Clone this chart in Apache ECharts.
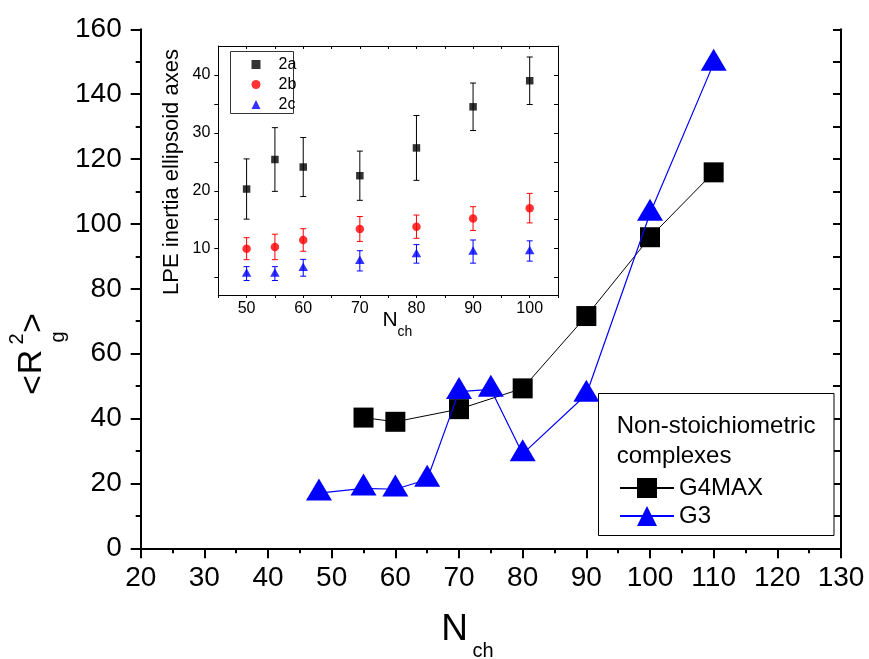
<!DOCTYPE html>
<html>
<head>
<meta charset="utf-8">
<script src="https://cdn.jsdelivr.net/npm/echarts@6/dist/echarts.min.js"></script>
<style>
  html, body { margin: 0; padding: 0; background: #fff; }
  #chart { width: 869px; height: 659px; }
</style>
</head>
<body>
<div id="chart"></div>
<script>
const FONT = '"Liberation Sans", Arial, Helvetica, sans-serif';

// Main panel: <Rg^2> against chain length
const nchG4max = [55, 60, 70, 80, 90, 100, 110];
const rgG4max = [40.3, 39.0, 42.9, 49.3, 71.6, 95.9, 115.9];
const nchG3 = [48, 55, 60, 65, 70, 75, 80, 90, 100, 110];
const rgG3 = [17.0, 18.5, 18.2, 21.2, 48.3, 49.0, 29.1, 47.4, 103.2, 149.5];

// Main panel tick labels
const mainXLabels = [20, 30, 40, 50, 60, 70, 80, 90, 100, 110, 120, 130];
const mainYLabels = [0, 20, 40, 60, 80, 100, 120, 140, 160];

// Inset: LPE inertia ellipsoid axes (mean and error)
const nchInset = [50, 55, 60, 70, 80, 90, 100];
const axis2a = [20.3, 25.4, 24.1, 22.6, 27.4, 34.5, 39.0];
const err2a = [5.2, 5.5, 5.1, 4.25, 5.6, 4.1, 4.1];
const axis2b = [10.0, 10.3, 11.5, 13.4, 13.8, 15.2, 17.0];
const err2b = [1.9, 2.2, 1.95, 2.15, 2.0, 2.05, 2.55];
const axis2c = [5.7, 5.7, 6.7, 7.9, 9.1, 9.5, 9.6];
const err2c = [1.2, 1.2, 1.45, 1.75, 1.6, 2.0, 1.75];

// Inset tick labels and tick positions
const insetXLabels = [50, 60, 70, 80, 90, 100];
const insetXTicks = [45, 50, 55, 60, 65, 70, 75, 80, 85, 90, 95, 100, 105];
const insetYLabels = [10, 20, 30, 40];
const insetYTicks = [5, 10, 15, 20, 25, 30, 35, 40];

const pairs = (xs, ys) => xs.map((x, i) => [x, ys[i]]);

function errorBars(values, errs, color) {
  return {
    type: 'custom',
    xAxisIndex: 2, yAxisIndex: 2,
    silent: true, z: 1,
    data: nchInset.map((x, i) => [x, values[i] - errs[i], values[i] + errs[i]]),
    encode: { x: 0, y: [1, 2] },
    renderItem(params, api) {
      const x = api.value(0);
      const lo = api.coord([x, api.value(1)]);
      const hi = api.coord([x, api.value(2)]);
      const hw = 3;
      const style = { stroke: color, lineWidth: 1 };
      return {
        type: 'group',
        children: [
          { type: 'line', shape: { x1: lo[0], y1: lo[1], x2: hi[0], y2: hi[1] }, style },
          { type: 'line', shape: { x1: hi[0] - hw, y1: hi[1], x2: hi[0] + hw, y2: hi[1] }, style },
          { type: 'line', shape: { x1: lo[0] - hw, y1: lo[1], x2: lo[0] + hw, y2: lo[1] }, style }
        ]
      };
    }
  };
}

const black = '#000';
const mainLine = { lineStyle: { color: black, width: 2 } };
const mainTickLine = { color: black, width: 2 };
const insetLine = { lineStyle: { color: black, width: 1 } };

const chart = echarts.init(document.getElementById('chart'), null, { renderer: 'canvas' });

chart.setOption({
  animation: false,
  backgroundColor: '#fff',
  grid: [
    { left: 140.7, top: 29.3, width: 700.3, height: 519, show: false },
    { left: 218.3, top: 46, width: 339.7, height: 249, show: false }
  ],
  xAxis: [
    { // main bottom
      type: 'value', gridIndex: 0, position: 'bottom', min: 20, max: 130, interval: 10,
      axisLine: mainLine,
      axisTick: { show: true, inside: false, length: 10, lineStyle: mainTickLine },
      minorTick: { show: true, splitNumber: 2, length: 5, lineStyle: mainTickLine },
      axisLabel: { customValues: mainXLabels, fontSize: 28, fontFamily: FONT, color: black, margin: 16 },
      splitLine: { show: false }
    },
    { // main top mirror
      type: 'value', gridIndex: 0, position: 'top', min: 20, max: 130, interval: 5,
      axisLine: mainLine,
      axisTick: { show: true, inside: true, length: 5, lineStyle: mainTickLine },
      axisLabel: { show: false }, splitLine: { show: false }
    },
    { // inset bottom
      type: 'value', gridIndex: 1, position: 'bottom', min: 45, max: 105,
      axisLine: insetLine,
      axisTick: { show: true, inside: false, length: 3, customValues: insetXTicks, lineStyle: { color: black, width: 1 } },
      axisLabel: { customValues: insetXLabels, fontSize: 16, fontFamily: FONT, color: black, margin: 6 },
      splitLine: { show: false }
    },
    { // inset top mirror
      type: 'value', gridIndex: 1, position: 'top', min: 45, max: 105,
      axisLine: insetLine,
      axisTick: { show: true, inside: true, length: 3, customValues: insetXTicks, lineStyle: { color: black, width: 1 } },
      axisLabel: { show: false }, splitLine: { show: false }
    }
  ],
  yAxis: [
    { // main left
      type: 'value', gridIndex: 0, position: 'left', min: 0, max: 160, interval: 20,
      axisLine: mainLine,
      axisTick: { show: true, inside: false, length: 10, lineStyle: mainTickLine },
      minorTick: { show: true, splitNumber: 2, length: 5, lineStyle: mainTickLine },
      axisLabel: { customValues: mainYLabels, fontSize: 28, fontFamily: FONT, color: black, margin: 19 },
      splitLine: { show: false }
    },
    { // main right mirror
      type: 'value', gridIndex: 0, position: 'right', min: 0, max: 160, interval: 10,
      axisLine: mainLine,
      axisTick: { show: true, inside: true, length: 8, lineStyle: mainTickLine },
      axisLabel: { show: false }, splitLine: { show: false }
    },
    { // inset left
      type: 'value', gridIndex: 1, position: 'left', min: 2, max: 45,
      axisLine: insetLine,
      axisTick: { show: true, inside: false, length: 4, customValues: insetYTicks, lineStyle: { color: black, width: 1 } },
      axisLabel: { customValues: insetYLabels, fontSize: 16, fontFamily: FONT, color: black, margin: 8 },
      splitLine: { show: false }
    },
    { // inset right mirror
      type: 'value', gridIndex: 1, position: 'right', min: 2, max: 45,
      axisLine: insetLine,
      axisTick: { show: true, inside: true, length: 4, customValues: insetYTicks, lineStyle: { color: black, width: 1 } },
      axisLabel: { show: false }, splitLine: { show: false }
    }
  ],
  legend: [
    {
      data: ['G4MAX', 'G3'],
      orient: 'vertical', left: 614, top: 471,
      itemWidth: 54, itemHeight: 25, itemGap: 4,
      textStyle: { fontSize: 24, fontFamily: FONT, color: black },
      selectedMode: false
    },
    {
      data: ['2a', '2b', '2c'],
      orient: 'vertical', left: 246.5, top: 51.5,
      itemWidth: 9, itemHeight: 9, itemGap: 4,
      textStyle: { fontSize: 16, fontFamily: FONT, color: black, padding: [0, 0, 0, 13] },
      selectedMode: false
    }
  ],
  graphic: [
    { type: 'rect', z: 1, shape: { x: 598.5, y: 393.5, width: 235.5, height: 142 },
      style: { fill: '#fff', stroke: black, lineWidth: 1 } },
    { type: 'rect', z: 1, shape: { x: 230.5, y: 51.5, width: 63, height: 62 },
      style: { fill: 'none', stroke: '#333', lineWidth: 1 } },
    { type: 'text', z: 10, x: 616.7, y: 426.7,
      style: { text: 'Non-stoichiometric', fontSize: 24, fontFamily: FONT, fill: black, verticalAlign: 'middle' } },
    { type: 'text', z: 10, x: 616.7, y: 456,
      style: { text: 'complexes', fontSize: 24, fontFamily: FONT, fill: black, verticalAlign: 'middle' } },
    // main x-axis title N_ch
    { type: 'text', x: 454.5, y: 630,
      style: { text: 'N', fontSize: 37, fontFamily: FONT, fill: black, align: 'center', verticalAlign: 'middle' } },
    { type: 'text', x: 483, y: 651,
      style: { text: 'ch', fontSize: 20, fontFamily: FONT, fill: black, align: 'center', verticalAlign: 'middle' } },
    // main y-axis title <R²g>
    { type: 'text', x: 34, y: 385, rotation: Math.PI / 2,
      style: { text: '<', fontSize: 34, fontFamily: FONT, fill: black, align: 'center', verticalAlign: 'middle' } },
    { type: 'text', x: 32, y: 362, rotation: Math.PI / 2,
      style: { text: 'R', fontSize: 34, fontFamily: FONT, fill: black, align: 'center', verticalAlign: 'middle' } },
    { type: 'text', x: 17, y: 339, rotation: Math.PI / 2,
      style: { text: '2', fontSize: 20, fontFamily: FONT, fill: black, align: 'center', verticalAlign: 'middle' } },
    { type: 'text', x: 58, y: 337, rotation: Math.PI / 2,
      style: { text: 'g', fontSize: 20, fontFamily: FONT, fill: black, align: 'center', verticalAlign: 'middle' } },
    { type: 'text', x: 34, y: 323, rotation: Math.PI / 2,
      style: { text: '>', fontSize: 34, fontFamily: FONT, fill: black, align: 'center', verticalAlign: 'middle' } },
    // inset titles
    { type: 'text', x: 172, y: 172, rotation: Math.PI / 2,
      style: { text: 'LPE inertia ellipsoid axes', fontSize: 22, fontFamily: FONT, fill: black, align: 'center', verticalAlign: 'middle' } },
    { type: 'text', x: 390, y: 320.5,
      style: { text: 'N', fontSize: 21, fontFamily: FONT, fill: black, align: 'center', verticalAlign: 'middle' } },
    { type: 'text', x: 405, y: 332.5,
      style: { text: 'ch', fontSize: 14, fontFamily: FONT, fill: black, align: 'center', verticalAlign: 'middle' } }
  ],
  series: [
    {
      name: 'G4MAX', type: 'line', xAxisIndex: 0, yAxisIndex: 0,
      data: pairs(nchG4max, rgG4max),
      symbol: 'rect', symbolSize: 20,
      itemStyle: { color: black },
      lineStyle: { color: black, width: 1 },
      z: 3
    },
    {
      name: 'G3', type: 'line', xAxisIndex: 0, yAxisIndex: 0,
      data: pairs(nchG3, rgG3),
      symbol: 'triangle', symbolSize: [26, 22], symbolOffset: [0, -3.7],
      itemStyle: { color: '#0000ff' },
      lineStyle: { color: '#0000ff', width: 1.2 },
      z: 4
    },
    errorBars(axis2a, err2a, black),
    errorBars(axis2b, err2b, '#ff0000'),
    errorBars(axis2c, err2c, '#0000ff'),
    {
      name: '2a', type: 'scatter', xAxisIndex: 2, yAxisIndex: 2,
      data: pairs(nchInset, axis2a),
      symbol: 'rect', symbolSize: 7.5, itemStyle: { color: black }, z: 3
    },
    {
      name: '2b', type: 'scatter', xAxisIndex: 2, yAxisIndex: 2,
      data: pairs(nchInset, axis2b),
      symbol: 'circle', symbolSize: 8.5, itemStyle: { color: '#ff0000' }, z: 3
    },
    {
      name: '2c', type: 'scatter', xAxisIndex: 2, yAxisIndex: 2,
      data: pairs(nchInset, axis2c),
      symbol: 'triangle', symbolSize: [9.5, 8.5], symbolOffset: [0, -1], itemStyle: { color: '#0000ff' }, z: 3
    }
  ]
});
</script>
</body>
</html>
